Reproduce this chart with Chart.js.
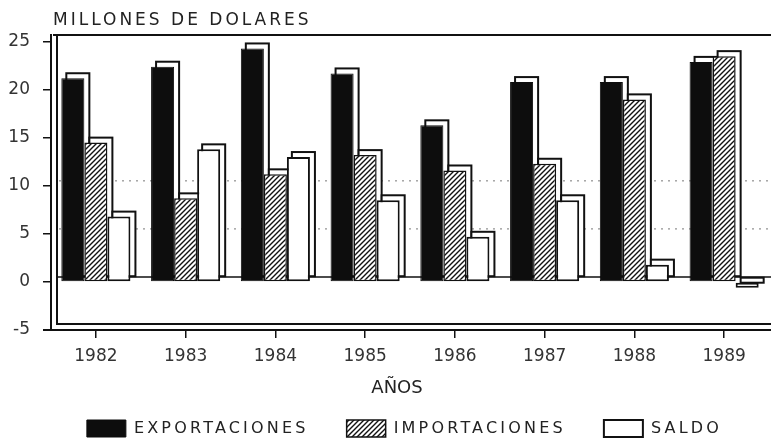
<!DOCTYPE html>
<html>
<head>
<meta charset="utf-8">
<script src="https://cdn.jsdelivr.net/npm/chart.js@4.4.1/dist/chart.umd.min.js"></script>
<style>
  html, body { margin: 0; padding: 0; background: #fff; }
  #wrap { width: 771px; height: 443px; }
</style>
</head>
<body>
<div id="wrap"><canvas id="grafica"></canvas></div>
<script>
// millones de dolares
var years = ['1982', '1983', '1984', '1985', '1986', '1987', '1988', '1989'];
var exportaciones = [21.2, 22.4, 24.3, 21.7, 16.3, 20.8, 20.8, 22.9];
var importaciones = [14.5, 8.7, 11.2, 13.2, 11.6, 12.3, 19.0, 23.5];
var saldo = [6.8, 13.8, 13.0, 8.5, 4.7, 8.5, 1.8, -0.6];
var yTicks = [-5, 0, 5, 10, 15, 20, 25];
var gridLevels = [5, 10];

var depth = 5;          // desplazamiento de la sombra 3D
var legendShift = [20, 4];

Chart.defaults.font.family = "'DejaVu Sans', sans-serif";

function hatch() {
  var c = document.createElement('canvas');
  c.width = 5; c.height = 5;
  var g = c.getContext('2d');
  g.fillStyle = '#fff';
  g.fillRect(0, 0, 5, 5);
  g.strokeStyle = '#111';
  g.lineWidth = 1.4;
  g.beginPath();
  g.moveTo(-1, 6); g.lineTo(6, -1);
  g.moveTo(-1, 1); g.lineTo(1, -1);
  g.moveTo(4, 6); g.lineTo(6, 4);
  g.stroke();
  return g.createPattern(c, 'repeat');
}

var decor = {
  id: 'decor',
  beforeLayout: function(chart) {
    // la leyenda lleva letras espaciadas y va un poco desplazada
    var lg = chart.legend;
    if (!lg || lg._wrapped) return;
    lg._wrapped = true;
    var fit = lg.fit, draw = lg.draw;
    lg.fit = function() {
      var c = this.ctx, old = c.letterSpacing;
      c.letterSpacing = '3.2px';
      var r = fit.apply(this, arguments);
      c.letterSpacing = old;
      return r;
    };
    lg.draw = function() {
      var c = this.ctx;
      c.save();
      c.letterSpacing = '3.2px';
      c.translate(legendShift[0], legendShift[1]);
      var r = draw.apply(this, arguments);
      c.restore();
      return r;
    };
  },
  beforeDatasetsDraw: function(chart) {
    var ctx = chart.ctx, a = chart.chartArea, y = chart.scales.y;
    var right = chart.width;
    ctx.save();
    ctx.strokeStyle = '#111';
    ctx.lineWidth = 2;
    ctx.beginPath();
    ctx.moveTo(a.left + 2, a.top); ctx.lineTo(right, a.top);
    ctx.moveTo(a.left + 6, a.top); ctx.lineTo(a.left + 6, a.bottom - 6); ctx.lineTo(right, a.bottom - 6);
    ctx.moveTo(a.left - 8, a.bottom); ctx.lineTo(right, a.bottom);
    ctx.stroke();

    // pared del fondo
    ctx.lineWidth = 1.5;
    ctx.beginPath();
    ctx.moveTo(a.left + 6, y.getPixelForValue(0) - depth);
    ctx.lineTo(right, y.getPixelForValue(0) - depth);
    ctx.stroke();
    ctx.setLineDash([2, 5]);
    ctx.strokeStyle = '#777';
    ctx.lineWidth = 1;
    gridLevels.forEach(function(v) {
      var py = y.getPixelForValue(v) - depth;
      ctx.beginPath();
      ctx.moveTo(a.left + 8, py);
      ctx.lineTo(right, py);
      ctx.stroke();
    });
    ctx.setLineDash([]);

    // sombras
    chart.data.datasets.forEach(function(ds, i) {
      chart.getDatasetMeta(i).data.forEach(function(bar) {
        var p = bar.getProps(['x', 'y', 'base', 'width'], true);
        var l = p.x - p.width / 2;
        var t = Math.min(p.y, p.base);
        var h = Math.abs(p.base - p.y);
        ctx.fillStyle = '#fff';
        ctx.strokeStyle = '#111';
        ctx.lineWidth = 2;
        ctx.fillRect(l + depth, t - depth, p.width, h);
        ctx.strokeRect(l + depth, t - depth, p.width, h);
      });
    });
    ctx.restore();
  },
  afterDraw: function(chart) {
    var ctx = chart.ctx;
    ctx.save();
    ctx.fillStyle = '#222';
    ctx.letterSpacing = '3px';
    ctx.font = "17px 'DejaVu Sans'";
    ctx.textAlign = 'left';
    ctx.textBaseline = 'alphabetic';
    ctx.fillText('MILLONES DE DOLARES', 53, 25);
    ctx.letterSpacing = '0px';
    ctx.font = "18px 'DejaVu Sans'";
    ctx.textAlign = 'center';
    ctx.fillText('AÑOS', 397, 393);
    ctx.restore();
  }
};

new Chart(document.getElementById('grafica'), {
  type: 'bar',
  data: {
    labels: years,
    datasets: [
      { label: 'EXPORTACIONES', data: exportaciones, backgroundColor: '#0d0d0d', borderColor: '#0d0d0d', borderWidth: 1, borderSkipped: false },
      { label: 'IMPORTACIONES', data: importaciones, backgroundColor: hatch(), borderColor: '#111', borderWidth: 1.5, borderSkipped: false },
      { label: 'SALDO', data: saldo, backgroundColor: '#fff', borderColor: '#111', borderWidth: 2, borderSkipped: false }
    ]
  },
  options: {
    responsive: true,
    maintainAspectRatio: false,
    animation: false,
    layout: { padding: { top: 35, right: 2, bottom: 0, left: 0 } },
    datasets: { bar: { categoryPercentage: 0.77, barPercentage: 1 } },
    scales: {
      x: {
        grid: { offset: false, drawOnChartArea: false, tickLength: 8, color: '#111', lineWidth: 1.5 },
        border: { color: '#111', width: 2 },
        ticks: { color: '#333', font: { size: 17 }, padding: 8, maxRotation: 0 },
        afterFit: function(s) { s.height = 48; }
      },
      y: {
        min: -5,
        max: 25.7,
        afterBuildTicks: function(s) { s.ticks = yTicks.map(function(v) { return { value: v }; }); },
        grid: { drawOnChartArea: false, tickLength: 8, color: '#111', lineWidth: 1.5 },
        border: { color: '#111', width: 2 },
        ticks: { color: '#333', font: { size: 17 }, padding: 13 },
        afterFit: function(s) { s.width = 51; }
      }
    },
    plugins: {
      legend: {
        position: 'bottom',
        labels: { boxWidth: 39, boxHeight: 17, padding: 38, color: '#222', font: { size: 16 } }
      },
      tooltip: { enabled: false }
    }
  },
  plugins: [decor]
});
</script>
</body>
</html>
